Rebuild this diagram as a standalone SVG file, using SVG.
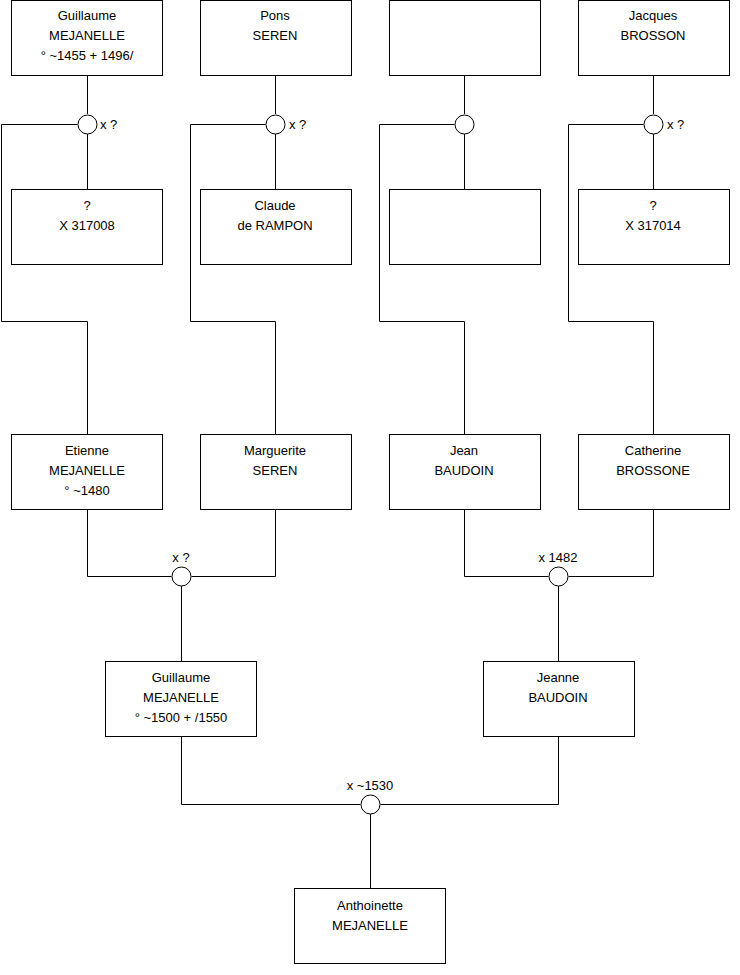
<svg xmlns="http://www.w3.org/2000/svg" width="740" height="975" viewBox="0 0 740 975">
<style>
.b{fill:#fff;stroke:#000;stroke-width:1}
.c{fill:#fff;stroke:#000;stroke-width:1}
.l{fill:none;stroke:#000;stroke-width:1}
text{font-family:"Liberation Sans",Arial,sans-serif;font-size:13px;fill:#000}
.m{text-anchor:middle}
</style>
<rect width="740" height="975" fill="#fff"/>
<g id="connectors">
<path class="l" d="M87.5 76V114M87.5 134V189M77.5 124.5H1.5V321.5H87.5V434"/>
<path class="l" d="M275.5 76V114M275.5 134V189M265.5 124.5H190.5V321.5H275.5V434"/>
<path class="l" d="M464.5 76V114M464.5 134V189M454.5 124.5H379.5V321.5H464.5V434"/>
<path class="l" d="M653.5 76V114M653.5 134V189M643.5 124.5H568.5V321.5H653.5V434"/>
<path class="l" d="M87.5 510V576.5H171.5M191.5 576.5H275.5V510M181.5 586V661"/>
<path class="l" d="M464.5 510V576.5H548.5M568.5 576.5H653.5V510M558.5 586V661"/>
<path class="l" d="M181.5 737V804.5H360.5M380.5 804.5H558.5V737M370.5 814V888"/>
</g>
<g id="u1"><circle class="c" cx="87.5" cy="124.5" r="9.5"/><text x="100" y="129">x ?</text></g>
<g id="u2"><circle class="c" cx="275.5" cy="124.5" r="9.5"/><text x="289" y="129">x ?</text></g>
<g id="u3"><circle class="c" cx="464.5" cy="124.5" r="9.5"/></g>
<g id="u4"><circle class="c" cx="653.5" cy="124.5" r="9.5"/><text x="667" y="129">x ?</text></g>
<g id="u5"><circle class="c" cx="181.5" cy="576.5" r="9.5"/><text class="m" x="181" y="562">x ?</text></g>
<g id="u6"><circle class="c" cx="558.5" cy="576.5" r="9.5"/><text class="m" x="558" y="562">x 1482</text></g>
<g id="u7"><circle class="c" cx="370.5" cy="804.5" r="9.5"/><text class="m" x="370" y="790">x ~1530</text></g>
<g id="n1"><rect class="b" x="11.5" y="0.5" width="151" height="75"/><text class="m" x="87" y="20">Guillaume</text><text class="m" x="87" y="40">MEJANELLE</text><text class="m" x="87" y="60">° ~1455 + 1496/</text></g>
<g id="n2"><rect class="b" x="200.5" y="0.5" width="151" height="75"/><text class="m" x="275" y="20">Pons</text><text class="m" x="275" y="40">SEREN</text></g>
<g id="n3"><rect class="b" x="389.5" y="0.5" width="151" height="75"/></g>
<g id="n4"><rect class="b" x="578.5" y="0.5" width="151" height="75"/><text class="m" x="653" y="20">Jacques</text><text class="m" x="653" y="40">BROSSON</text></g>
<g id="n5"><rect class="b" x="11.5" y="189.5" width="151" height="75"/><text class="m" x="87" y="210">?</text><text class="m" x="87" y="230">X 317008</text></g>
<g id="n6"><rect class="b" x="200.5" y="189.5" width="151" height="75"/><text class="m" x="275" y="210">Claude</text><text class="m" x="275" y="230">de RAMPON</text></g>
<g id="n7"><rect class="b" x="389.5" y="189.5" width="151" height="75"/></g>
<g id="n8"><rect class="b" x="578.5" y="189.5" width="151" height="75"/><text class="m" x="653" y="210">?</text><text class="m" x="653" y="230">X 317014</text></g>
<g id="n9"><rect class="b" x="11.5" y="434.5" width="151" height="75"/><text class="m" x="87" y="455">Etienne</text><text class="m" x="87" y="475">MEJANELLE</text><text class="m" x="87" y="495">° ~1480</text></g>
<g id="n10"><rect class="b" x="200.5" y="434.5" width="151" height="75"/><text class="m" x="275" y="455">Marguerite</text><text class="m" x="275" y="475">SEREN</text></g>
<g id="n11"><rect class="b" x="389.5" y="434.5" width="151" height="75"/><text class="m" x="464" y="455">Jean</text><text class="m" x="464" y="475">BAUDOIN</text></g>
<g id="n12"><rect class="b" x="578.5" y="434.5" width="151" height="75"/><text class="m" x="653" y="455">Catherine</text><text class="m" x="653" y="475">BROSSONE</text></g>
<g id="n13"><rect class="b" x="105.5" y="661.5" width="151" height="75"/><text class="m" x="181" y="682">Guillaume</text><text class="m" x="181" y="702">MEJANELLE</text><text class="m" x="181" y="722">° ~1500 + /1550</text></g>
<g id="n14"><rect class="b" x="483.5" y="661.5" width="151" height="75"/><text class="m" x="558" y="682">Jeanne</text><text class="m" x="558" y="702">BAUDOIN</text></g>
<g id="n15"><rect class="b" x="294.5" y="888.5" width="151" height="75"/><text class="m" x="370" y="910">Anthoinette</text><text class="m" x="370" y="930">MEJANELLE</text></g>
</svg>
